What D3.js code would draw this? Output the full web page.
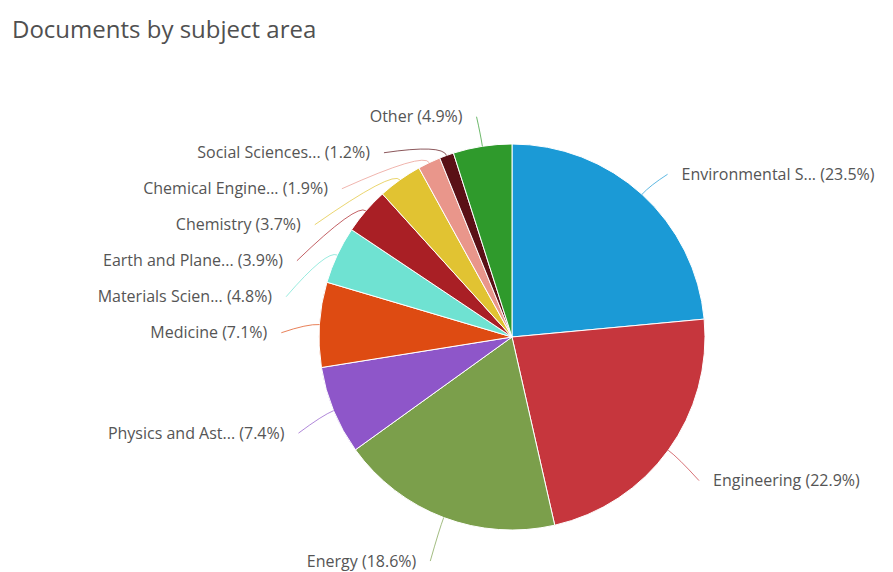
<!DOCTYPE html>
<html>
<head>
<meta charset="utf-8">
<script src="https://cdn.jsdelivr.net/npm/d3@7"></script>
<style>
  html, body { margin: 0; padding: 0; background: #ffffff; }
  svg { display: block; }
</style>
</head>
<body>
<div id="chart"></div>
<script>
// Subject areas and their share of documents (%)
const subjects = [
  "Environmental Science",
  "Engineering",
  "Energy",
  "Physics and Astronomy",
  "Medicine",
  "Materials Science",
  "Earth and Planetary Sciences",
  "Chemistry",
  "Chemical Engineering",
  "Social Sciences and Humanities",
  "Other"
];
const shares = [23.5, 22.9, 18.6, 7.4, 7.1, 4.8, 3.9, 3.7, 1.9, 1.2, 4.9];
const sliceColors = [
  "#1b9ad6", "#c6363d", "#7b9f4b", "#8e56c9", "#de4b12", "#6fe2d2",
  "#a91f25", "#e1c332", "#e9968b", "#5a1016", "#2f9a2c"
];
const chartTitle = "Documents by subject area";

const W = 893, H = 572;
const cx = 512, cy = 337, radius = 193;
const labelRadius = 231, labelCy = cy + 8;
const labelGap = 36, textOffset = 14;

const svg = d3.select("#chart").append("svg")
  .attr("width", W).attr("height", H);

svg.append("text")
  .attr("x", 12).attr("y", 38)
  .attr("font-family", "'Open Sans', sans-serif")
  .attr("font-size", 24)
  .attr("fill", "#505050")
  .text(chartTitle);

const data = subjects.map((s, i) => ({ name: s, value: shares[i], color: sliceColors[i] }));

const pie = d3.pie().sort(null).value(d => d.value);
const arcs = pie(data);
const arc = d3.arc().innerRadius(0).outerRadius(radius);

const g = svg.append("g").attr("transform", `translate(${cx},${cy})`);
g.selectAll("path.slice").data(arcs).join("path")
  .attr("class", "slice")
  .attr("d", arc)
  .attr("fill", d => d.data.color)
  .attr("stroke", "#ffffff")
  .attr("stroke-width", 1);

// Label placement: start on a circle around the pie, then push overlapping labels downward
const labels = arcs.map(a => {
  const theta = (a.startAngle + a.endAngle) / 2;
  const side = Math.sin(theta) >= 0 ? 1 : -1;
  const natY = labelCy - labelRadius * Math.cos(theta);
  return { a, theta, side, natY, y: natY };
});

[1, -1].forEach(side => {
  const group = labels.filter(l => l.side === side).sort((p, q) => p.natY - q.natY);
  let prev = -Infinity;
  group.forEach(l => {
    l.y = Math.max(l.natY, prev + labelGap);
    prev = l.y;
  });
});

labels.forEach(l => {
  if (Math.abs(l.y - l.natY) < 0.5) {
    l.x = cx + labelRadius * Math.sin(l.theta);
  } else {
    const dy = Math.min(Math.abs(l.y - labelCy), labelRadius);
    l.x = cx + l.side * Math.sqrt(labelRadius * labelRadius - dy * dy);
  }
  l.ex = cx + radius * Math.sin(l.theta);
  l.ey = cy - radius * Math.cos(l.theta);
  l.bx = cx + (radius + 12) * Math.sin(l.theta);
  l.by = cy - (radius + 12) * Math.cos(l.theta);
});

const shortName = n => n.length > 14 ? n.slice(0, 15) + "..." : n;

svg.append("g").selectAll("path.connector").data(labels).join("path")
  .attr("class", "connector")
  .attr("d", l => `M${l.x},${l.y} Q${l.bx},${l.by} ${l.ex},${l.ey}`)
  .attr("fill", "none")
  .attr("stroke", l => l.a.data.color)
  .attr("stroke-opacity", 0.7)
  .attr("stroke-width", 1);

svg.append("g").selectAll("text.label").data(labels).join("text")
  .attr("class", "label")
  .attr("x", l => l.x + l.side * textOffset)
  .attr("y", l => l.y)
  .attr("dy", "0.35em")
  .attr("text-anchor", l => l.side > 0 ? "start" : "end")
  .attr("font-family", "'Open Sans', sans-serif")
  .attr("font-size", 16)
  .attr("fill", "#555555")
  .text(l => `${shortName(l.a.data.name)} (${l.a.data.value}%)`);
</script>
</body>
</html>
